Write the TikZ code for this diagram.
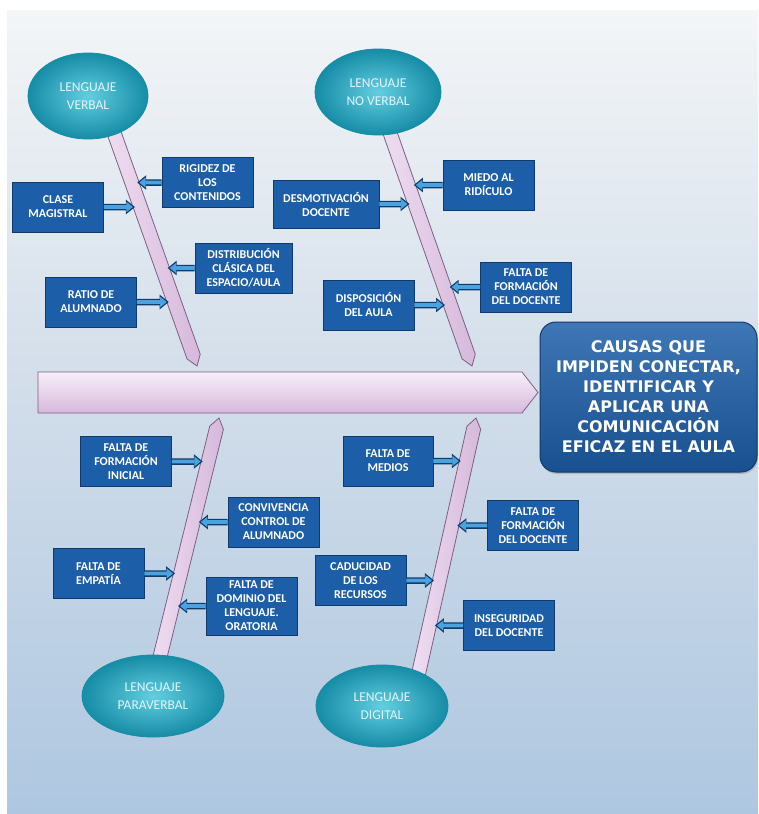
\documentclass[tikz,border=0pt]{standalone}
\usepackage{fontspec}
\setmainfont{Carlito}
\newfontfamily\titlefont{DejaVu Sans}
\usetikzlibrary{shapes.geometric,arrows.meta,calc,shadows}
\definecolor{fondoA}{HTML}{F3F5F7}
\definecolor{fondoB}{HTML}{D0DCE9}
\definecolor{fondoC}{HTML}{AEC7E0}
\definecolor{cajaazul}{HTML}{1D5EA8}
\definecolor{bordeazul}{HTML}{0F3A6C}
\definecolor{flecha}{HTML}{4AA3DE}
\definecolor{rosa}{HTML}{F0DFF2}
\definecolor{rosaosc}{HTML}{D6B8DB}
\definecolor{bordehueso}{HTML}{7B5F84}
\definecolor{turquesa}{HTML}{3CC2D8}
\definecolor{turquesaosc}{HTML}{168CA6}

\newcommand{\hueso}[2]{%
  \coordinate (#2p) at ($(#2)!10pt!(#1)$);
  \draw[bone] ($(#1)!7pt!90:(#2)$) -- ($(#2p)!7pt!-90:(#1)$) -- (#2)
    -- ($(#2p)!7pt!90:(#1)$) -- ($(#1)!7pt!-90:(#2)$) -- cycle;
}

\begin{document}
\begin{tikzpicture}[x=1pt, y=-1pt,
    bone/.style={draw=bordehueso, line width=0.8pt, left color=rosa, right color=rosaosc},
    tema/.style={ellipse, draw=turquesaosc, line width=0.8pt, inner color=turquesa!80!white,
      outer color=turquesaosc, text=white!88!cyan, align=center, inner sep=0pt,
      font=\fontsize{13.5}{18}\selectfont},
    causa/.style={rectangle, draw=bordeazul, line width=0.8pt, fill=cajaazul, text=white,
      align=center, minimum width=91pt, minimum height=50pt, inner sep=1pt,
      font=\bfseries\fontsize{12}{14}\selectfont},
    flechafondo/.style={-{Triangle[length=9pt,width=14pt]}, line width=6.5pt, draw=bordeazul,
      shorten >=5.5pt},
    flechita/.style={-{Triangle[length=6.5pt,width=10pt]}, line width=3.8pt, draw=flecha,
      shorten >=7.5pt}]

      \useasboundingbox (0,0) rectangle (758,814);
      \fill[white] (0,0) rectangle (758,814);
      \shade[top color=fondoA, bottom color=fondoC, middle color=fondoB] (7,10) rectangle (758,814);

      % espina
      \draw[draw=bordehueso, line width=0.8pt, top color=rosa!50!white, bottom color=rosaosc]
        (38,372) -- (522,372) -- (538,392.5) -- (522,413) -- (38,413) -- cycle;

      \coordinate (hv1) at (107,113);
      \coordinate (hv2) at (197,366);
      \coordinate (hn1) at (383,113);
      \coordinate (hn2) at (472,366);
      \coordinate (hp1) at (155,677);
      \coordinate (hp2) at (219,418);
      \coordinate (hd1) at (416,685);
      \coordinate (hd2) at (476,418);
      \hueso{hv1}{hv2}
      \hueso{hn1}{hn2}
      \hueso{hp1}{hp2}
      \hueso{hd1}{hd2}

      \node [tema, minimum width=120pt, minimum height=86pt] (lverbal)     at (88,96)   {LENGUAJE\\VERBAL};
      \node [tema, minimum width=126pt, minimum height=86pt] (lnoverbal)   at (378,92)  {LENGUAJE\\NO VERBAL};
      \node [tema, minimum width=142pt, minimum height=82pt] (lparaverbal) at (153,696) {LENGUAJE\\PARAVERBAL};
      \node [tema, minimum width=132pt, minimum height=82pt] (ldigital)    at (382,706) {LENGUAJE\\DIGITAL};

      \node [causa] (cmag)  at (58,207)    {CLASE\\MAGISTRAL};
      \node [causa] (rigi)  at (207.5,182.5) {RIGIDEZ DE\\LOS\\CONTENIDOS};
      \node [causa, minimum width=97pt] (dist) at (243.5,268) {DISTRIBUCIÓN\\CLÁSICA DEL\\ESPACIO/AULA};
      \node [causa] (ratio) at (91,302)    {RATIO DE\\ALUMNADO};

      \node [causa, minimum width=106pt, minimum height=48pt] (desm) at (326,204) {DESMOTIVACIÓN\\DOCENTE};
      \node [causa] (miedo) at (488.5,185) {MIEDO AL\\RIDÍCULO};
      \node [causa] (fdoc)  at (526,287)   {FALTA DE\\FORMACIÓN\\DEL DOCENTE};
      \node [causa] (disp)  at (368.5,305) {DISPOSICIÓN\\DEL AULA};

      \node [causa] (finic) at (126,461.5) {FALTA DE\\FORMACIÓN\\INICIAL};
      \node [causa] (conv)  at (273.5,522) {CONVIVENCIA\\CONTROL DE\\ALUMNADO};
      \node [causa] (empa)  at (98.5,573.5) {FALTA DE\\EMPATÍA};
      \node [causa, minimum height=58pt] (domi) at (251.5,606) {FALTA DE\\DOMINIO DEL\\LENGUAJE.\\ORATORIA};

      \node [causa, minimum width=90pt] (medi) at (388,461) {FALTA DE\\MEDIOS};
      \node [causa] (fdoc2) at (533,525.5) {FALTA DE\\FORMACIÓN\\DEL DOCENTE};
      \node [causa] (cadu)  at (360.5,580.5) {CADUCIDAD\\DE LOS\\RECURSOS};
      \node [causa] (inse)  at (509,625.5) {INSEGURIDAD\\DEL DOCENTE};

      \foreach \c/\h in {cmag/hv, rigi/hv, dist/hv, ratio/hv,
                         desm/hn, miedo/hn, fdoc/hn, disp/hn,
                         finic/hp, conv/hp, empa/hp, domi/hp,
                         medi/hd, fdoc2/hd, cadu/hd, inse/hd} {
        \draw [flechafondo] (\c) -- (intersection of \c.west--\c.east and \h1--\h2);
        \draw [flechita] (\c) -- (intersection of \c.west--\c.east and \h1--\h2);
      }

      \node [rectangle, rounded corners=16pt, draw=bordeazul, line width=1pt,
        top color=cajaazul!85!white, bottom color=cajaazul!85!black,
        drop shadow={opacity=0.35, shadow xshift=1pt, shadow yshift=-2pt},
        minimum width=217pt, minimum height=150pt, align=center, text=white,
        font=\titlefont\bfseries\fontsize{16}{20}\selectfont] (causas) at (648.5,397)
        {CAUSAS QUE\\IMPIDEN CONECTAR,\\IDENTIFICAR Y\\APLICAR UNA\\COMUNICACIÓN\\EFICAZ EN EL AULA};
\end{tikzpicture}
\end{document}
